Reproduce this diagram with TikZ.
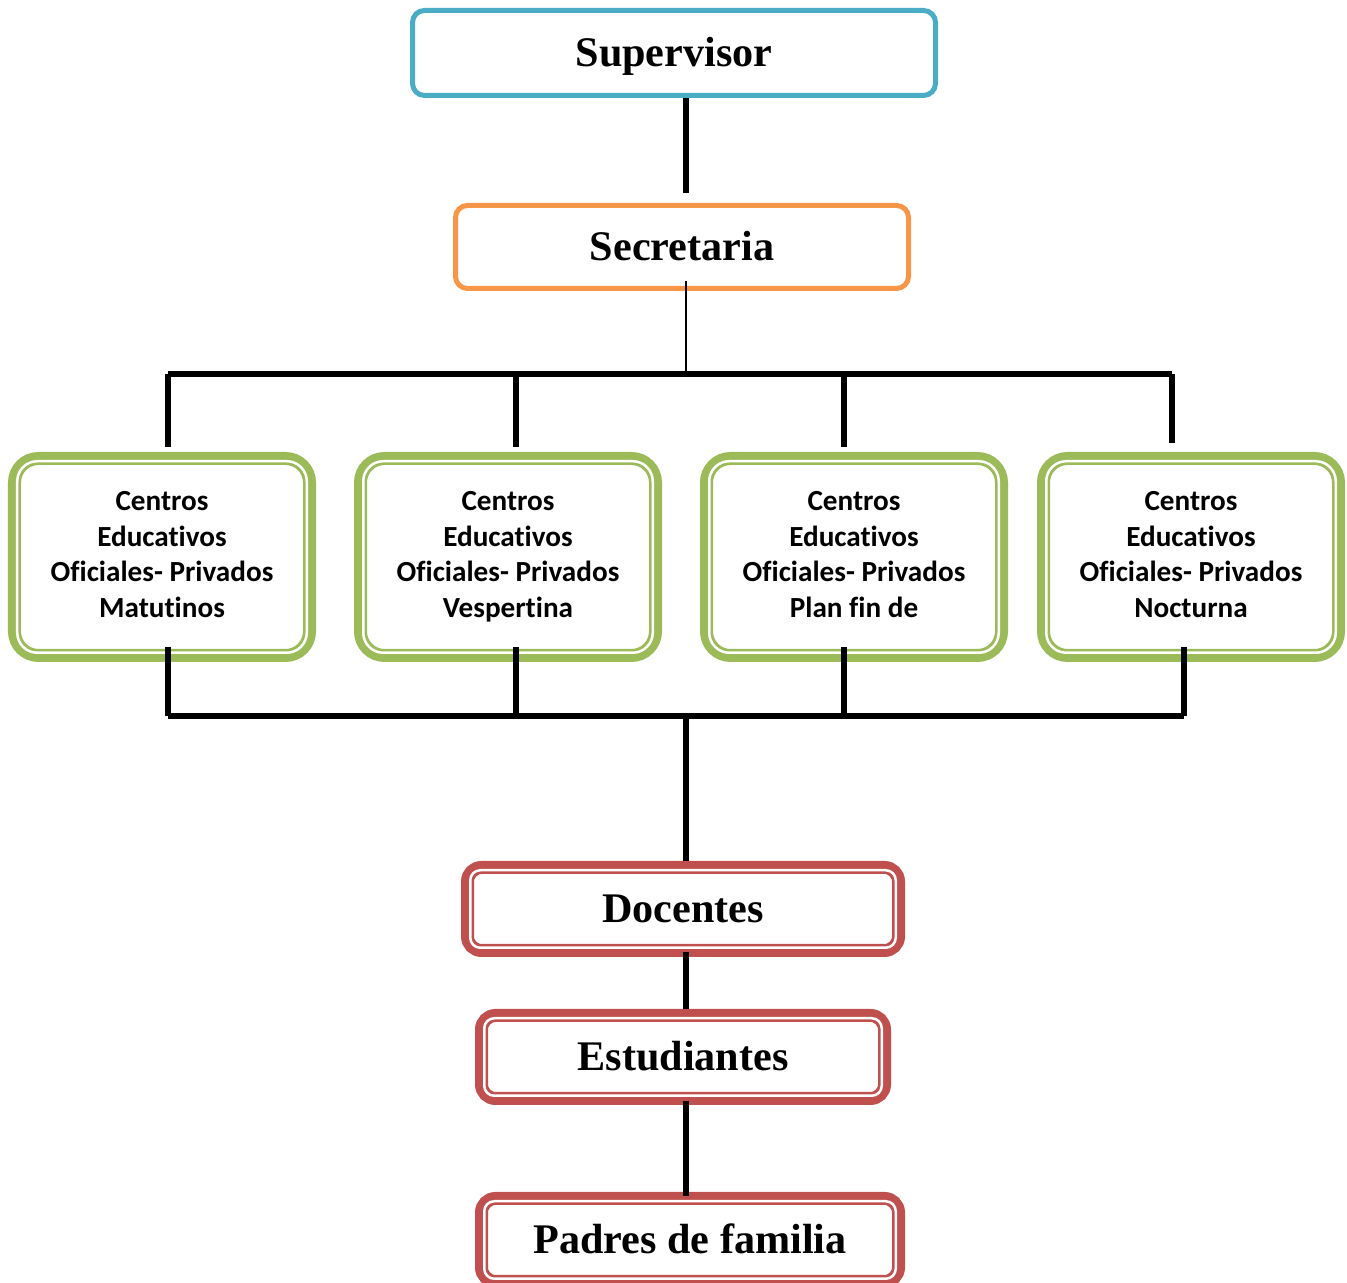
\documentclass[tikz,border=0pt]{standalone}
\usepackage{fontspec}
\setmainfont{Liberation Serif}
\newfontfamily\calibri[Ligatures = NoCommon]{Carlito}
\usetikzlibrary{calc}

\definecolor{supblue}{HTML}{4BACC6}
\definecolor{secorange}{HTML}{F79646}
\definecolor{cengreen}{HTML}{9BBB59}
\definecolor{docred}{HTML}{C0504D}

\tikzset{
  title text/.style = {text height = 0.3cm, text depth = 0.02cm,
    font = \fontsize{12}{14}\selectfont\bfseries},
  top box/.style = {draw = #1, line width = 0.05cm, rounded corners = 0.12cm,
    inner sep = 0, title text},
  twin box/.style = {draw = #1, line width = 0.13cm, inner sep = 0},
  center box/.style = {twin box = cengreen, rounded corners = 0.24cm,
    minimum width = 2.95cm, minimum height = 1.97cm, align = center,
    text depth = 0.05cm, font = \calibri\fontsize{8.3}{10.2}\selectfont\bfseries},
  red box/.style = {twin box = docred, rounded corners = 0.14cm,
    minimum height = 0.83cm, title text},
  link/.style = {line width = 0.055cm}
}

\begin{document}
\begin{tikzpicture}
  \useasboundingbox (0, 0) rectangle (13.47, -12.83);

  \node[top box = supblue, minimum width = 5.23cm, minimum height = 0.85cm]
  (sup) at (6.74, -0.53) {Supervisor};
  \node[top box = secorange, minimum width = 4.53cm, minimum height = 0.83cm]
  (sec) at (6.82, -2.47) {Secretaria};

  \node[center box] (cen1) at (1.62, -5.57) {Centros\\Educativos\\Oficiales- Privados\\Matutinos};
  \node[center box] (cen2) at (5.08, -5.57) {Centros\\Educativos\\Oficiales- Privados\\Vespertina};
  \node[center box] (cen3) at (8.54, -5.57) {Centros\\Educativos\\Oficiales- Privados\\Plan fin de};
  \node[center box] (cen4) at (11.91, -5.57) {Centros\\Educativos\\Oficiales- Privados\\Nocturna};

  \node[red box, minimum width = 4.31cm] (doc) at (6.83, -9.09) {Docentes};
  \node[red box, minimum width = 4.03cm] (est) at (6.83, -10.57) {Estudiantes};
  \node[red box, minimum width = 4.17cm] (pad) at (6.90, -12.40) {Padres de familia};

  % thin white gap of the twin borders
  \foreach \n in {cen1, cen2, cen3, cen4}
    \draw[white, line width = 0.025cm, rounded corners = 0.2cm]
    ($(\n.south west) + (0.0925, 0.0925)$) rectangle ($(\n.north east) - (0.0925, 0.0925)$);
  \foreach \n in {doc, est, pad}
    \draw[white, line width = 0.025cm, rounded corners = 0.1cm]
    ($(\n.south west) + (0.0925, 0.0925)$) rectangle ($(\n.north east) - (0.0925, 0.0925)$);

  \coordinate (trunk) at (6.86, 0);
  \coordinate (topbus) at (6.86, -3.74);
  \coordinate (botbus) at (6.86, -7.16);
  \coordinate (d1) at (1.68, 0);
  \coordinate (d2) at (5.16, 0);
  \coordinate (d3) at (8.44, 0);
  \coordinate (d4) at (11.72, 0);
  \coordinate (d5) at (11.84, 0);

  \draw[link, shorten > = 0.1cm] (sup.south -| trunk) -- (sec.north -| trunk);
  \draw[line width = 0.6pt] ($(sec.south -| trunk) + (0, 0.1)$) -- (topbus);

  \draw[link] (topbus -| d1) -- (topbus -| d4);
  \draw[link, shorten > = 0.05cm] (topbus -| d1) -- (cen1.north -| d1);
  \draw[link, shorten > = 0.05cm] (topbus -| d2) -- (cen2.north -| d2);
  \draw[link, shorten > = 0.05cm] (topbus -| d3) -- (cen3.north -| d3);
  \draw[link, shorten > = 0.09cm] (topbus -| d4) -- (cen4.north -| d4);

  \draw[link] ($(cen1.south -| d1) + (0, 0.15)$) -- (botbus -| d1);
  \draw[link] ($(cen2.south -| d2) + (0, 0.15)$) -- (botbus -| d2);
  \draw[link] ($(cen3.south -| d3) + (0, 0.15)$) -- (botbus -| d3);
  \draw[link] ($(cen4.south -| d5) + (0, 0.15)$) -- (botbus -| d5);
  \draw[link] (botbus -| d1) -- (botbus -| d5);

  \draw[link] (botbus) -- (doc.north -| trunk);
  \draw[link] ($(doc.south -| trunk) + (0, 0.05)$) -- (est.north -| trunk);
  \draw[link] ($(est.south -| trunk) + (0, 0.04)$) -- ($(pad.north -| trunk) - (0, 0.04)$);
\end{tikzpicture}
\end{document}
